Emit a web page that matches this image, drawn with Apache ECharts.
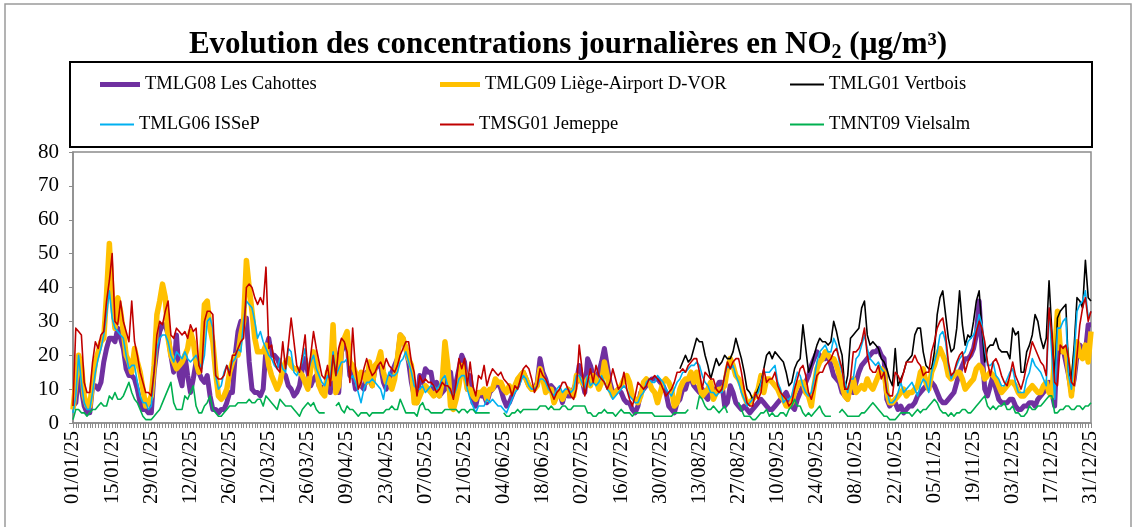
<!DOCTYPE html>
<html><head><meta charset="utf-8">
<script src="https://cdn.jsdelivr.net/npm/echarts@6/dist/echarts.min.js"></script>
<style>html,body{margin:0;padding:0;background:#fff}#c{width:1136px;height:527px}</style>
</head><body><div id="c"></div>
<script>
const seriesNames = ['TMLG08 Les Cahottes','TMLG09 Liège-Airport D-VOR','TMLG01 Vertbois','TMLG06 ISSeP','TMSG01 Jemeppe','TMNT09 Vielsalm'];
const startYear = 2025, dayCount = 365, labelEvery = 14;
const yTicks = [0,10,20,30,40,50,60,70,80];

const cahottes = [
5,6,15,10,5,3,3,11,11,10,12,18,22,25,
25,24,28,25,22,16,14,14,13,10,6,4,4,3,
3,15,22,27,29,29,26,20,15,26,14,11,20,14,
9,13,18,15,13,12,14,8,4,4,3,4,4,6,
9,9,20,27,30,29,31,18,10,9,9,8,10,22,
25,20,20,19,17,15,14,11,10,8,9,11,16,19,
15,11,13,14,11,10,11,12,9,23,20,9,21,23,
24,14,15,10,12,11,10,15,13,11,16,17,17,12,
10,13,15,17,19,26,25,22,18,12,8,6,14,12,
16,15,15,10,12,8,9,10,13,15,8,12,16,20,
18,10,14,6,5,9,8,8,6,9,10,11,12,10,
7,5,6,8,10,11,14,15,13,11,10,10,12,19,
15,13,10,11,10,8,9,6,9,8,8,10,12,17,
13,9,19,17,14,13,15,18,22,17,12,9,9,10,
9,7,6,6,4,3,5,9,10,11,12,13,13,13,
12,11,9,5,4,3,6,7,10,10,13,13,11,10,
9,10,8,7,10,10,10,12,12,5,6,11,9,6,
5,4,5,4,3,4,5,6,7,6,5,4,4,5,
6,7,8,9,7,5,4,7,9,11,12,14,17,19,
21,20,19,19,20,17,14,13,12,9,8,7,11,9,
12,15,17,18,19,20,21,21,22,20,19,7,5,6,
6,4,5,3,4,5,5,6,8,9,10,11,12,12,
11,9,7,6,6,7,8,9,12,15,17,19,19,20,
22,26,36,22,10,8,11,14,10,7,6,6,6,7,
7,5,4,4,5,5,6,6,5,7,8,9,10,12,
9,5,24,21,22,18,14,9,13,20,23,22,21,29,29];

const liegeAirport = [
4,12,20,17,8,5,5,12,18,21,24,25,38,53,
37,28,37,33,27,20,18,15,22,18,15,10,5,6,
8,17,32,36,41,37,25,20,18,16,17,18,20,22,
27,24,18,15,20,35,36,28,24,15,8,7,8,10,
15,18,20,20,26,30,48,40,33,25,21,21,21,23,
17,14,12,10,12,16,18,19,17,16,16,15,14,12,
10,16,21,17,11,9,8,15,13,29,9,11,23,25,
27,18,17,15,11,15,14,12,18,11,17,18,21,15,
12,13,10,13,19,26,25,22,19,17,6,6,8,10,
11,10,9,8,9,8,12,24,17,5,4,7,11,17,
15,10,10,8,7,9,9,10,7,10,10,13,12,12,
10,9,11,9,11,13,14,15,13,11,10,10,11,16,
13,9,10,10,6,8,9,7,9,10,9,8,14,13,
12,11,13,11,14,13,10,12,18,14,10,8,9,10,
11,13,14,12,8,7,6,8,12,13,12,10,9,6,
9,12,13,12,10,5,6,10,12,13,13,15,12,15,
11,8,9,10,12,7,9,10,10,11,16,19,17,14,
13,11,8,6,6,7,8,10,14,9,13,13,12,11,
10,8,7,5,5,6,9,11,12,12,9,8,5,11,
16,18,19,21,20,19,19,17,14,11,8,7,11,13,
9,10,11,10,13,11,10,12,14,16,15,9,6,6,
7,8,9,10,8,9,9,10,11,15,16,12,10,15,
17,20,22,20,18,14,13,14,15,15,13,10,11,12,
13,16,17,16,13,14,15,14,13,11,9,10,11,12,
12,11,9,8,8,9,10,11,10,9,9,11,12,9,
8,20,33,22,21,22,15,8,16,24,20,19,23,18,27];

// Vertbois starts reporting on day index 217 (05/08/25)
const vertboisFirstDay = 217;
const vertboisValues = [
16,18,20,18,19,22,25,24,24,20,17,13,16,19,
17,18,20,19,19,21,25,22,19,15,10,9,7,8,
10,12,16,20,21,19,21,20,19,18,15,11,12,16,
18,19,29,22,15,17,20,23,25,24,24,23,24,30,
27,23,20,10,14,25,26,27,28,34,36,26,23,24,
23,22,19,18,16,13,11,22,11,13,15,18,19,20,
26,28,28,21,17,16,16,21,32,37,39,32,25,21,
22,28,39,29,23,26,25,30,36,39,28,18,22,23,
23,25,22,21,21,21,19,28,26,27,15,15,21,23,
26,32,30,25,22,25,42,27,13,31,33,34,35,15,
13,23,37,36,34,48,37,36];

const issep = [
3,8,20,12,6,4,4,9,15,19,22,26,32,39,
31,28,27,26,25,20,16,17,17,12,8,6,6,4,
5,16,22,25,26,26,24,20,18,21,20,19,21,19,
18,19,20,18,16,20,30,31,28,14,10,11,15,17,
15,18,19,22,21,30,36,35,34,30,25,27,24,22,
20,19,17,16,19,16,15,22,21,15,14,16,18,22,
15,18,20,16,14,12,11,14,13,21,14,16,18,18,
19,13,14,12,9,6,10,12,12,13,12,11,10,7,
12,15,14,14,15,18,19,21,18,15,11,10,10,11,
9,10,11,11,10,11,13,14,11,9,8,10,13,14,
14,10,7,5,3,5,5,5,7,6,7,6,5,5,
4,3,5,7,9,10,12,14,13,11,10,10,11,13,
13,12,10,9,8,10,11,9,10,10,9,10,14,14,
12,10,14,11,12,11,12,14,12,10,9,7,8,9,
10,11,10,8,7,6,6,8,9,12,13,12,12,14,
13,12,10,9,8,10,12,13,15,15,16,17,17,18,
17,14,12,11,9,9,8,9,9,14,17,16,17,14,
12,9,7,5,6,7,8,9,12,15,15,15,16,17,
12,10,6,7,7,8,12,15,14,11,9,8,9,13,
18,21,22,23,21,21,25,23,18,15,12,9,13,13,
19,20,23,26,22,19,18,17,18,16,15,10,6,6,
7,9,12,9,10,11,12,10,8,11,13,12,9,15,
18,21,26,27,24,17,13,15,17,19,20,21,24,25,
26,28,32,29,22,17,17,18,14,13,11,11,13,15,
16,12,9,9,9,13,15,19,17,16,15,13,11,34,
20,7,28,28,30,31,14,10,20,33,35,36,39,31,33];

const jemeppe = [
5,28,27,26,12,9,9,18,24,22,26,27,36,42,
50,30,29,36,30,27,24,36,24,20,15,12,9,9,
8,15,26,30,29,33,36,26,25,28,27,26,27,25,
29,27,28,17,15,30,33,33,32,14,13,13,14,17,
14,20,20,22,24,25,40,41,40,37,35,37,35,46,
22,23,18,16,15,24,16,23,31,24,17,15,20,26,
14,20,27,22,18,14,13,17,11,20,14,22,25,24,
21,12,28,16,10,12,16,19,16,14,15,17,18,16,
19,17,16,15,17,20,22,24,24,18,15,8,14,12,
13,12,12,11,9,10,12,11,11,10,7,12,19,16,
19,11,18,11,8,14,13,17,11,14,16,15,14,15,
13,12,11,8,11,10,13,16,17,16,13,9,11,16,
14,13,11,9,7,9,10,12,12,10,8,7,10,23,
16,8,12,16,12,17,14,13,12,10,12,16,13,10,
11,15,10,7,5,8,12,11,10,11,13,13,14,13,
12,10,8,9,10,12,15,15,16,15,17,18,19,19,
15,10,15,14,13,13,10,9,10,14,18,16,18,19,
19,15,10,6,5,5,9,7,9,16,12,13,13,15,
11,9,8,7,5,6,10,13,16,17,14,9,7,10,
14,15,15,17,18,19,21,22,19,16,10,10,13,21,
21,22,24,28,20,16,15,15,17,13,15,9,8,8,
15,14,12,15,18,18,18,20,18,17,14,15,15,21,
24,28,30,31,26,18,14,15,18,20,21,15,18,20,
22,27,30,28,24,18,14,18,19,17,14,12,11,14,
18,14,12,10,13,17,20,24,22,20,18,17,14,34,
26,12,11,23,22,23,19,12,11,20,29,34,37,30,33];

const vielsalm = [
1,4,4,3,3,2,3,4,4,5,6,5,5,8,
7,9,7,7,8,10,12,9,7,6,4,2,1,1,
1,2,3,4,6,8,10,12,6,4,4,4,8,7,
9,11,5,3,3,5,6,8,4,3,2,2,3,4,
5,5,5,6,6,6,6,7,6,6,7,7,5,8,
7,6,5,4,7,6,5,5,5,4,3,2,4,5,
6,5,6,4,3,3,3,null,null,null,5,6,4,3,
5,4,4,3,2,3,3,3,2,3,3,3,3,3,
4,4,5,4,4,7,5,3,3,3,3,2,5,6,
4,4,3,3,3,3,3,4,4,4,4,4,3,4,
4,3,4,4,3,3,3,3,3,3,null,null,null,null,
3,2,2,3,3,4,3,4,4,4,4,4,4,5,
5,5,4,5,4,4,4,5,5,4,4,5,5,5,
5,5,3,3,2,2,3,3,4,3,3,3,2,3,
4,3,3,3,2,3,3,3,3,3,3,3,2,2,
2,2,2,2,2,3,3,3,3,3,4,null,null,4,
8,7,5,4,4,5,4,3,4,5,3,null,null,null,
6,4,2,2,2,1,1,2,3,3,4,2,3,2,
2,3,3,2,4,5,7,5,5,3,2,3,2,3,
4,5,3,2,2,2,null,null,3,4,3,2,2,2,
2,2,3,3,4,5,6,5,4,3,2,2,1,1,
1,2,3,3,3,3,2,3,4,3,4,4,5,6,
7,6,4,3,3,2,3,2,3,3,4,4,3,3,
4,5,6,7,8,5,4,5,4,5,5,6,4,4,
5,3,3,2,2,3,5,4,4,5,5,6,7,8,
8,3,3,4,4,5,5,4,4,5,5,4,5,5,6];

// categories: daily dates dd/mm/yy
const categories = [];
for (let i = 0; i < dayCount; i++) {
  const d = new Date(Date.UTC(startYear, 0, 1 + i));
  const dd = String(d.getUTCDate()).padStart(2,'0');
  const mm = String(d.getUTCMonth()+1).padStart(2,'0');
  const yy = String(d.getUTCFullYear()).slice(2);
  categories.push(dd + '/' + mm + '/' + yy);
}
const vertbois = [];
for (let i = 0; i < dayCount; i++) vertbois.push(i < vertboisFirstDay ? null : vertboisValues[i - vertboisFirstDay]);

const FONT = 'Liberation Serif';
const colors = ['#7030A0','#FFC000','#000000','#00B0F0','#C00000','#00B050'];
const widths = [5,5.5,1.6,1.6,1.6,1.6];
const dataSets = [cahottes, liegeAirport, vertbois, issep, jemeppe, vielsalm];

const legendPos = [[100,75],[440,75],[790,75],[100,115],[440,115],[790,115]];
const legends = seriesNames.map((n,i) => ({
  data: [n], left: legendPos[i][0], top: legendPos[i][1], padding: 0,
  icon: 'rect', itemWidth: i < 2 ? 40 : 34, itemHeight: i < 2 ? 5 : 2,
  textStyle: {fontFamily: FONT, fontSize: 18.5, color: '#000'}
}));

const chart = echarts.init(document.getElementById('c'), null, {renderer: 'canvas'});
chart.setOption({
  animation: false,
  backgroundColor: '#fff',
  title: {
    text: '{a|Evolution des concentrations journalières en NO}{b|2}{a| (µg/m³)}',
    left: 'center', top: 21,
    textStyle: {
      rich: {
        a: {fontFamily: FONT, fontWeight: 'bold', fontSize: 31, color: '#000', lineHeight: 37},
        b: {fontFamily: FONT, fontWeight: 'bold', fontSize: 20, color: '#000', lineHeight: 21, padding: [16,0,0,0]}
      }
    }
  },
  graphic: [
    {type: 'rect', shape: {x: 5, y: 4, width: 1126, height: 540}, style: {fill: 'none', stroke: '#9a9a9a', lineWidth: 1.5}, silent: true},
    {type: 'rect', shape: {x: 70, y: 62, width: 1022, height: 85}, style: {fill: 'none', stroke: '#000', lineWidth: 2}, silent: true}
  ],
  legend: legends,
  grid: {left: 73, right: 45, top: 152, bottom: 104, show: true, borderColor: '#8c8c8c', borderWidth: 1.5},
  xAxis: {
    type: 'category', data: categories, boundaryGap: false,
    axisLine: {lineStyle: {color: '#8c8c8c', width: 1.5}},
    axisTick: {show: true, interval: 0, length: 5, lineStyle: {color: '#8c8c8c'}},
    axisLabel: {interval: labelEvery - 1, rotate: 90, margin: 8, fontFamily: FONT, fontSize: 20.5, color: '#000'}
  },
  yAxis: {
    type: 'value', min: yTicks[0], max: yTicks[yTicks.length-1], interval: 10,
    axisLine: {show: true, lineStyle: {color: '#8c8c8c', width: 1.5}},
    axisTick: {show: true, length: 4, lineStyle: {color: '#8c8c8c'}},
    splitLine: {show: false},
    axisLabel: {fontFamily: FONT, fontSize: 21, color: '#000', margin: 14}
  },
  series: seriesNames.map((n,i) => ({
    name: n, type: 'line', data: dataSets[i], showSymbol: false, symbol: 'none',
    connectNulls: false, color: colors[i],
    lineStyle: {color: colors[i], width: widths[i], join: 'round'},
    z: 2 + i
  }))
});
</script></body></html>
